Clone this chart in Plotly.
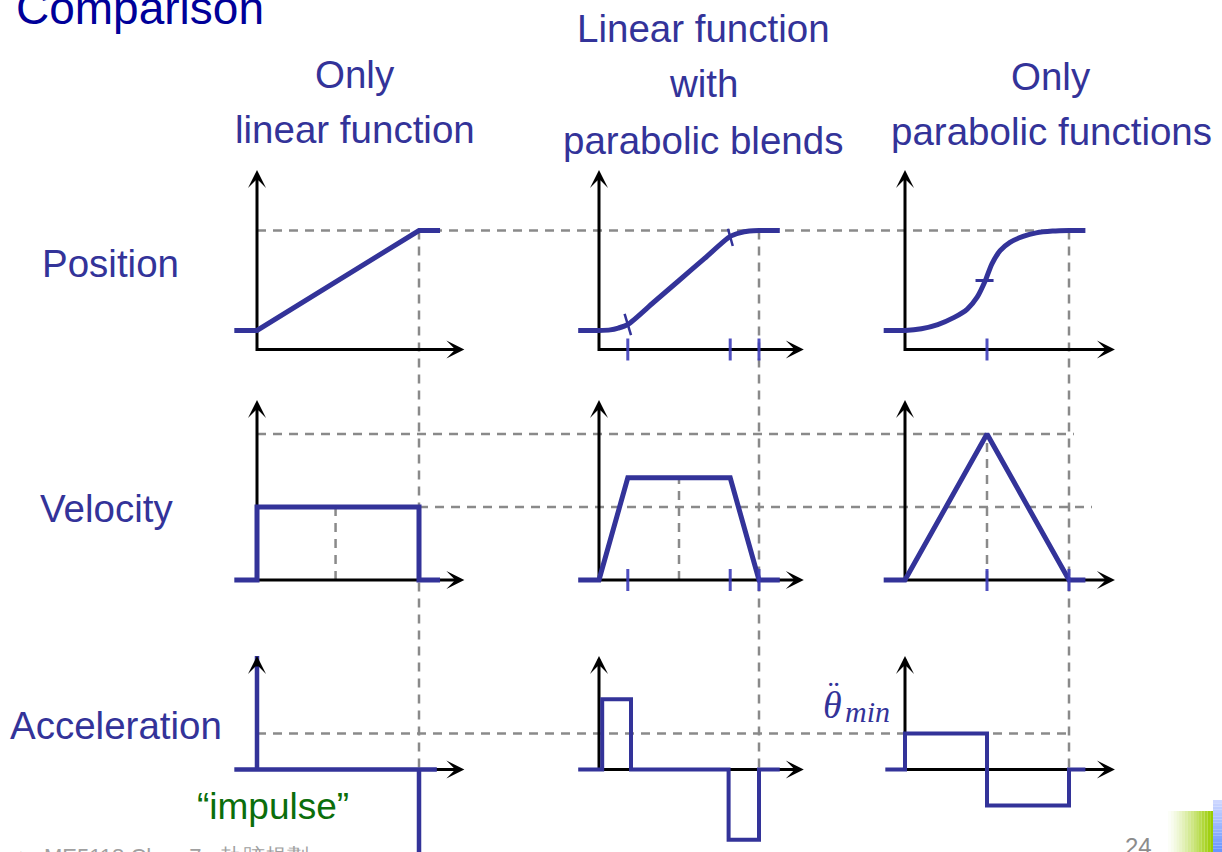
import plotly.graph_objects as go

# ------------------------------------------------------------------
# DATA  (time is normalised: 0 = start of motion, 1 = t_f)
# ------------------------------------------------------------------
# column 1 : only linear function
lin_pos_t = [-0.14, 0.0, 1.0, 1.13]
lin_pos_v = [0.16, 0.16, 1.0, 1.0]
lin_vel_t = [-0.14, 0.0, 0.0, 1.0, 1.0, 1.13]
lin_vel_v = [0.0, 0.0, 1.0, 1.0, 0.0, 0.0]
lin_acc_t = [-0.14, 0.0, 0.0, 0.0, 1.0, 1.0, 1.0, 1.11]
lin_acc_v = [0.0, 0.0, 12.6, 0.0, 0.0, -12.0, 0.0, 0.0]

# column 2 : linear function with parabolic blends
blend_pos_t = [-0.13, 0.0, 0.07, 0.12, 0.18, 0.34, 0.5, 0.66, 0.82, 0.88, 0.94, 1.0, 1.13]
blend_pos_v = [0.16, 0.16, 0.165, 0.18, 0.21, 0.395, 0.58, 0.765, 0.95, 0.98, 0.995, 1.0, 1.0]
blend_vel_t = [-0.13, 0.0, 0.18, 0.82, 1.0, 1.13]
blend_vel_v = [0.0, 0.0, 1.4, 1.4, 0.0, 0.0]
blend_acc_t = [-0.13, 0.02, 0.02, 0.2, 0.2, 0.81, 0.81, 1.0, 1.0, 1.13]
blend_acc_v = [0.0, 0.0, 7.8, 7.8, 0.0, 0.0, -7.8, -7.8, 0.0, 0.0]
blend_ticks = [0.18, 0.82, 1.0]

# column 3 : only parabolic functions
para_pos_t = [-0.13, 0.0, 0.1, 0.2, 0.3, 0.38, 0.44, 0.49, 0.53, 0.58, 0.64, 0.72, 0.8, 0.9, 1.0, 1.1]
para_pos_v = [0.16, 0.16, 0.175, 0.21, 0.27, 0.34, 0.44, 0.58, 0.72, 0.83, 0.9, 0.95, 0.98, 0.995, 1.0, 1.0]
para_vel_t = [-0.13, 0.0, 0.5, 1.0, 1.1]
para_vel_v = [0.0, 0.0, 2.0, 0.0, 0.0]
para_acc_t = [-0.12, 0.0, 0.0, 0.5, 0.5, 1.0, 1.0, 1.1]
para_acc_v = [0.0, 0.0, 4.0, 4.0, -4.0, -4.0, 0.0, 0.0]
para_pos_ticks = [0.5]
para_vel_ticks = [0.5, 1.0]

theta_f = 1.0
v_lin = 1.0
v_peak = 2.0
acc_min = 4.0

col_headers = [["Only", "linear function"],
               ["Linear function", "with", "parabolic blends"],
               ["Only", "parabolic functions"]]
row_labels = ["Position", "Velocity", "Acceleration"]
title_text = "Comparison"
impulse_text = "\u201cimpulse\u201d"
acc_symbol = "\u03b8"
acc_dots = "\u00a8"
acc_sub = "min"
page_no = "24"
footer_text = "\u25b2  ME5118 Chap 7 - \u8ecc\u8de1\u898f\u5283"

# ------------------------------------------------------------------
# LAYOUT GEOMETRY (pixels)
# ------------------------------------------------------------------
W, H = 1222, 852
COL_X0 = [257.0, 599.0, 905.0]     # pixel x of t = 0
COL_W = [162.0, 160.0, 164.0]      # pixels per unit time
ROW_Y0 = [349.5, 580.0, 769.5]     # pixel y of value 0 (axis)
ROW_K = [119.0, 73.0, 9.0]         # pixels per value unit
ROW_TIP = [170.0, 400.0, 656.0]    # pixel y of the vertical arrow tips
X_END = 1.28                       # horizontal arrow tip (time units)

BLUE = "#333399"
TICKBLUE = "rgba(60,60,185,0.9)"
DASH = "#8a8a8a"
TXT = "#333399"
FONT = "Liberation Sans, Arial, sans-serif"
SERIF = "Liberation Serif, DejaVu Serif, serif"


def xid(c):
    return "x" if c == 0 else f"x{c + 1}"


def yid(r):
    return "y" if r == 0 else f"y{r + 1}"


def px(c, t):
    return COL_X0[c] + COL_W[c] * t


def py(r, v):
    return ROW_Y0[r] - ROW_K[r] * v


def paper_x(p):
    return p / W


def paper_y(p):
    return 1 - p / H


fig = go.Figure()

curves = [
    (0, 0, lin_pos_t, lin_pos_v, 5, "linear"),
    (0, 1, lin_vel_t, lin_vel_v, 5, "linear"),
    (0, 2, lin_acc_t, lin_acc_v, 4.5, "linear"),
    (1, 0, blend_pos_t, blend_pos_v, 5, "spline"),
    (1, 1, blend_vel_t, blend_vel_v, 5, "linear"),
    (1, 2, blend_acc_t, blend_acc_v, 4, "linear"),
    (2, 0, para_pos_t, para_pos_v, 5, "spline"),
    (2, 1, para_vel_t, para_vel_v, 5, "linear"),
    (2, 2, para_acc_t, para_acc_v, 4, "linear"),
]

# middle dashed lines inside velocity panels (drawn first, below curves)
mid_lines = [(0, 0.485, v_lin), (1, 0.5, 1.4), (2, 0.5, v_peak)]
for c, t, top in mid_lines:
    fig.add_trace(go.Scatter(x=[t, t], y=[0, top], mode="lines",
                             line=dict(color=DASH, width=2.5, dash="9px,7px"),
                             xaxis=xid(c), yaxis=yid(1), hoverinfo="skip"))

# black coordinate axes
for c in range(3):
    for r in range(3):
        tip = (ROW_Y0[r] - ROW_TIP[r]) / ROW_K[r]
        fig.add_trace(go.Scatter(x=[0, 0, X_END - 0.04], y=[tip * 0.97, 0, 0], mode="lines",
                                 line=dict(color="black", width=3),
                                 xaxis=xid(c), yaxis=yid(r), hoverinfo="skip"))

# blue curves
for c, r, t, v, w, shp in curves:
    line = dict(color=BLUE, width=w, shape=shp)
    if shp == "spline":
        line["smoothing"] = 0.7
    fig.add_trace(go.Scatter(x=t, y=v, mode="lines", line=line,
                             xaxis=xid(c), yaxis=yid(r), hoverinfo="skip"))

# small blue ticks on the time axes
tick_sets = [(1, 0, blend_ticks), (2, 0, para_pos_ticks),
             (1, 1, blend_ticks), (2, 1, para_vel_ticks)]
for c, r, ts in tick_sets:
    half = 11.0 / ROW_K[r]
    xs, ys = [], []
    for t in ts:
        xs += [t, t, None]
        ys += [-half, half, None]
    fig.add_trace(go.Scatter(x=xs, y=ys, mode="lines",
                             line=dict(color=TICKBLUE, width=3),
                             xaxis=xid(c), yaxis=yid(r), hoverinfo="skip"))

# blend markers crossing the position curves
fig.add_trace(go.Scatter(x=[0.16, 0.20, None, 0.806, 0.836, None],
                         y=[0.30, 0.12, None, 1.015, 0.87, None], mode="lines",
                         line=dict(color=BLUE, width=2.5),
                         xaxis=xid(1), yaxis=yid(0), hoverinfo="skip"))
fig.add_trace(go.Scatter(x=[0.43, 0.54], y=[0.58, 0.58], mode="lines",
                         line=dict(color=BLUE, width=3),
                         xaxis=xid(2), yaxis=yid(0), hoverinfo="skip"))

# ------------------------------------------------------------------
# dashed guide lines spanning panels (paper coordinates)
# ------------------------------------------------------------------
shapes = []


def dash_line(x0, y0, x1, y1):
    shapes.append(dict(type="line", xref="paper", yref="paper",
                       x0=paper_x(x0), y0=paper_y(y0), x1=paper_x(x1), y1=paper_y(y1),
                       line=dict(color=DASH, width=2.5, dash="9px,7px"), layer="below"))


dash_line(px(0, 0), py(0, theta_f), px(2, 1.04), py(0, theta_f))
dash_line(px(0, 0), py(1, v_peak), px(2, 1.03), py(1, v_peak))
dash_line(px(0, 1), py(1, v_lin), px(2, 1.14), py(1, v_lin))
dash_line(px(0, 0), py(2, acc_min), px(2, 1.02), py(2, acc_min))
for c in range(3):
    dash_line(px(c, 1.0), py(0, theta_f), px(c, 1.0), py(2, 0))

# decorations bottom-right (gradient boxes as stripes)
n = 16
gx0, gx1, gy0 = 1168.0, 1213.0, 811.0
for i in range(n):
    a = (i + 1) / n
    shapes.append(dict(type="rect", xref="paper", yref="paper",
                       x0=paper_x(gx0 + (gx1 - gx0) * i / n), x1=paper_x(gx0 + (gx1 - gx0) * (i + 1) / n),
                       y0=paper_y(H), y1=paper_y(gy0), line=dict(width=0),
                       fillcolor=f"rgba(153,204,0,{a ** 1.3:.3f})", layer="above"))
for i in range(n):
    y_a = 800.0 + (H - 800.0) * i / n
    y_b = 800.0 + (H - 800.0) * (i + 1) / n
    f = i / (n - 1)
    rr = int(205 - 100 * f)
    gg = int(215 - 65 * f)
    shapes.append(dict(type="rect", xref="paper", yref="paper",
                       x0=paper_x(1213), x1=paper_x(W), y0=paper_y(y_b), y1=paper_y(y_a),
                       line=dict(width=0), fillcolor=f"rgb({rr},{gg},255)", layer="above"))

# ------------------------------------------------------------------
# annotations: arrow heads and texts
# ------------------------------------------------------------------
ann = []
for c in range(3):
    for r in range(3):
        tip = (ROW_Y0[r] - ROW_TIP[r]) / ROW_K[r]
        ann.append(dict(x=X_END, y=0, ax=X_END - 12.0 / COL_W[c], ay=0,
                        xref=xid(c), yref=yid(r), axref=xid(c), ayref=yid(r),
                        text="", showarrow=True, arrowhead=3, arrowsize=1.0,
                        arrowwidth=3, arrowcolor="black"))
        ann.append(dict(x=0, y=tip, ax=0, ay=tip - 12.0 / ROW_K[r],
                        xref=xid(c), yref=yid(r), axref=xid(c), ayref=yid(r),
                        text="", showarrow=True, arrowhead=3, arrowsize=1.0,
                        arrowwidth=3, arrowcolor="black"))


def text(s, x, baseline, size, color=TXT, anchor="center", family=FONT):
    ann.append(dict(text=s, x=paper_x(x), y=paper_y(baseline - 0.3465 * size),
                    xref="paper", yref="paper", xanchor=anchor, yanchor="middle",
                    showarrow=False, font=dict(family=family, size=size, color=color)))


header_x = [355, 703, 1051]
header_base = [[88, 143], [42, 97, 154], [90, 145]]
for c in range(3):
    for line_txt, b in zip(col_headers[c], header_base[c]):
        text(line_txt, header_x[c], b, 38.5)

label_pos = [(40, 277), (38, 522), (8, 739)]
for lbl, (x, b) in zip(row_labels, label_pos):
    text(lbl, x, b, 38.5, anchor="left")

text(title_text, 14, 24, 46, color="#000099", anchor="left")
text(impulse_text, 195, 819, 37, color="#0b6e0b", anchor="left")
text(page_no, 1138, 855, 24, color="#8c8c8c")
text(footer_text, 8, 864, 22, color="#a0a0a0", anchor="left")

# theta-double-dot-min label
text("<i>" + acc_symbol + "</i>", 832, 718, 38, family=SERIF)
text(acc_dots, 834, 704, 34, family=SERIF)
text("<i>" + acc_sub + "</i>", 843, 722, 30, anchor="left", family=SERIF)

layout = dict(width=W, height=H, autosize=False,
              margin=dict(l=0, r=0, t=0, b=0, pad=0),
              paper_bgcolor="white", plot_bgcolor="rgba(0,0,0,0)",
              showlegend=False, shapes=shapes, annotations=ann,
              hovermode=False)
for c in range(3):
    key = "xaxis" if c == 0 else f"xaxis{c + 1}"
    ax = dict(range=[-COL_X0[c] / COL_W[c], (W - COL_X0[c]) / COL_W[c]],
              visible=False, fixedrange=True, domain=[0, 1], anchor="y")
    if c > 0:
        ax["overlaying"] = "x"
    layout[key] = ax
for r in range(3):
    key = "yaxis" if r == 0 else f"yaxis{r + 1}"
    ax = dict(range=[(ROW_Y0[r] - H) / ROW_K[r], ROW_Y0[r] / ROW_K[r]],
              visible=False, fixedrange=True, domain=[0, 1], anchor="x")
    if r > 0:
        ax["overlaying"] = "y"
    layout[key] = ax

fig.update_layout(**layout)
fig.write_html("out.html", config={"displayModeBar": False},
               post_script="document.body.style.margin='0';document.body.style.overflow='hidden';")
